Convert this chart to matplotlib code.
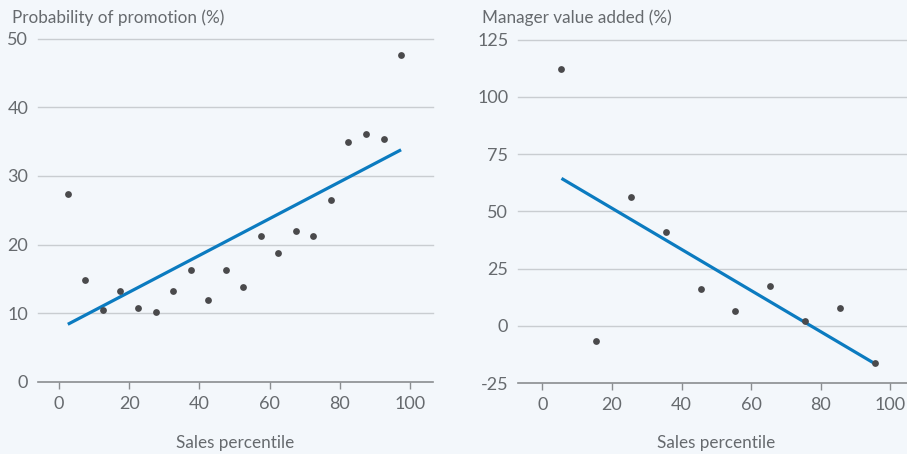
import matplotlib
matplotlib.use("Agg")
import matplotlib.pyplot as plt
import numpy as np

# ---- data ----
promo_x = [2.5, 7.5, 12.5, 17.5, 22.5, 27.5, 32.5, 37.5, 42.5, 47.5,
           52.5, 57.5, 62.5, 67.5, 72.5, 77.5, 82.5, 87.5, 92.5, 97.5]
promo_y = [27.3, 14.9, 10.5, 13.2, 10.8, 10.2, 13.2, 16.3, 11.9, 16.3,
           13.8, 21.2, 18.75, 22.0, 21.2, 26.5, 35.0, 36.1, 35.3, 47.6]
promo_fit_x = [2.5, 97.5]
promo_fit_y = [8.4, 33.8]

value_x = [5.5, 15.5, 25.5, 35.5, 45.5, 55.5, 65.5, 75.5, 85.5, 95.5]
value_y = [112.0, -6.6, 56.2, 40.9, 15.9, 6.4, 17.2, 1.9, 7.6, -16.3]
value_fit_x = [5.5, 95.5]
value_fit_y = [64.4, -16.5]

left_title = "Probability of promotion (%)"
right_title = "Manager value added (%)"
x_label = "Sales percentile"
x_ticks = [0, 20, 40, 60, 80, 100]
left_yticks = [0, 10, 20, 30, 40, 50]
right_yticks = [-25, 0, 25, 50, 75, 100, 125]

# ---- style ----
BG = "#f3f7fb"
TXT = "#666a6e"
GRID = "#c9cdd1"
AXIS = "#8a8d90"
DOT = "#4a4a4c"
LINE = "#0b7bc0"
plt.rcParams["font.family"] = ["Lato", "DejaVu Sans"]
plt.rcParams["axes.unicode_minus"] = False
FS = 12.3
TFS = 13

fig = plt.figure(figsize=(9.07, 4.54), dpi=100, facecolor=BG)

def style(ax, xlim, ylim, yticks):
    ax.set_facecolor(BG)
    ax.set_xlim(*xlim)
    ax.set_ylim(*ylim)
    ax.set_xticks(x_ticks)
    ax.set_yticks(yticks)
    for s in ["top", "right", "left"]:
        ax.spines[s].set_visible(False)
    ax.spines["bottom"].set_color(AXIS)
    ax.spines["bottom"].set_linewidth(1.2)
    ax.tick_params(axis="x", colors=AXIS, labelcolor=TXT, length=5, width=1,
                   labelsize=TFS, pad=5)
    ax.tick_params(axis="y", length=0, labelcolor=TXT, labelsize=TFS, pad=7)
    for yv in yticks[1:]:
        ax.axhline(yv, color=GRID, lw=1.0, zorder=0, clip_on=False)

ax1 = fig.add_axes([38/907, 1-382/454, (433-38)/907, (382-38.5)/454])
style(ax1, (-6.0, 106.6), (0, 50), left_yticks)
ax1.plot(promo_fit_x, promo_fit_y, color=LINE, lw=2.3, zorder=2, solid_capstyle="butt")
ax1.scatter(promo_x, promo_y, s=24, color=DOT, zorder=3, linewidths=0)

ax2 = fig.add_axes([518/907, 1-383/454, (907-518)/907, (383-39.7)/454])
style(ax2, (-7.0, 104.8), (-25, 125), right_yticks)
ax2.plot(value_fit_x, value_fit_y, color=LINE, lw=2.3, zorder=2, solid_capstyle="butt")
ax2.scatter(value_x, value_y, s=24, color=DOT, zorder=3, linewidths=0)

fig.text(12/907, 1-18/454, left_title, color=TXT, fontsize=FS, va="center", ha="left")
fig.text(482/907, 1-18/454, right_title, color=TXT, fontsize=FS, va="center", ha="left")
fig.text(235/907, 1-443/454, x_label, color=TXT, fontsize=FS, va="center", ha="center")
fig.text(716/907, 1-443/454, x_label, color=TXT, fontsize=FS, va="center", ha="center")

fig.savefig("out.png", dpi=100, facecolor=BG)
